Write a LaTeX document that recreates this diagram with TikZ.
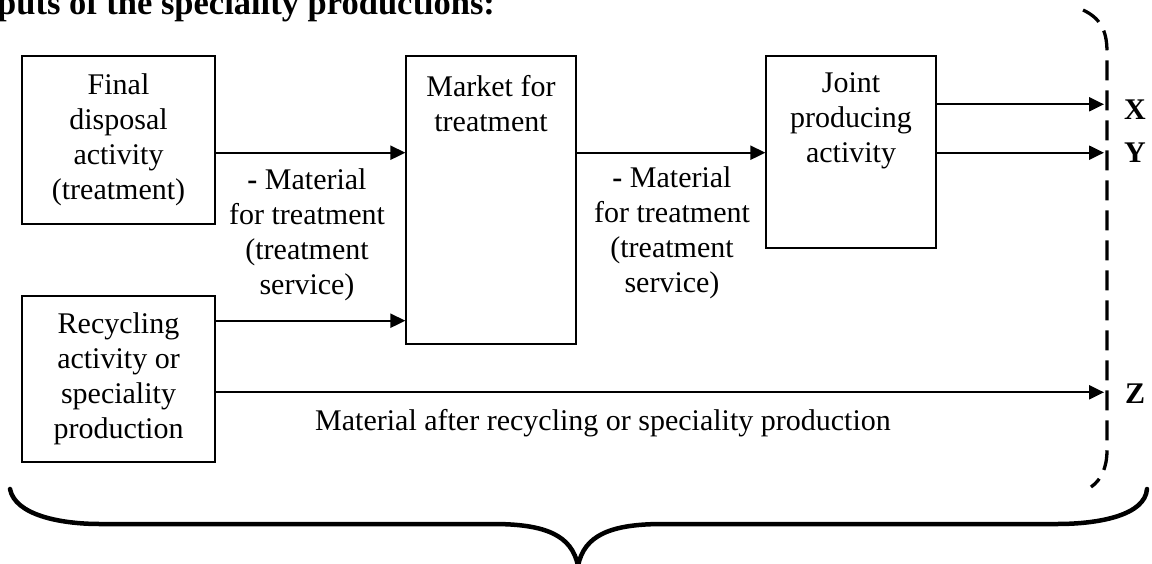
\documentclass[tikz,border=0pt]{standalone}
\usepackage{fontspec}
\setmainfont{Liberation Serif}
\usetikzlibrary{arrows.meta,calc}
\begin{document}
\begin{tikzpicture}[x=1pt,y=-1pt,
  every node/.style={font=\fontsize{30}{35}\selectfont, inner sep=0pt},
  box/.style={draw, line width=1.2pt, align=center},
  txt/.style={align=center},
  lbl/.style={font=\fontsize{30}{35}\selectfont\bfseries},
  arr/.style={line width=2.2pt, -{Triangle[length=15pt,width=14pt]}},
  brace/.style={line width=4.5pt, line cap=round},
  dashline/.style={line width=3.3pt, dash pattern=on 20pt off 10pt}]
\useasboundingbox (0,0) rectangle (1152,563);
% heading
\node[anchor=base west, font=\fontsize{34.5}{40}\selectfont\bfseries] (head) at (-3,14) {puts of the speciality productions:};
% boxes
\node[box, minimum width=193, minimum height=168] (fd) at (118.5,140) {Final\\disposal\\activity\\(treatment)};
\node[box, minimum width=193, minimum height=166] (rc) at (118.5,379) {Recycling\\activity or\\speciality\\production};
\node[box, minimum width=170, minimum height=288] (mk) at (491,200) {};
\node[txt] (mkt) at (491,104) {Market for\\treatment};
\node[box, minimum width=170, minimum height=192] (jp) at (851,152) {};
\node[txt] (jpt) at (851,121) {Joint\\producing\\activity};
% boundary line
\coordinate (bx) at (1104,0);
\draw[dashline] (1083,10) .. controls (1100,18) and (1107,30) .. (1107,52) -- (1107,450) .. controls (1107,468) and (1101,480) .. (1091,487);
% arrows
\path ([yshift=-12.7pt]fd.east) coordinate (p1);
\draw[arr] (p1) -- (p1 -| mk.west);
\draw[arr] (p1 -| mk.east) -- (p1 -| jp.west);
\path ([yshift=47.7pt]jp.east) coordinate (px);
\draw[arr] (px) -- (px -| bx);
\draw[arr] (p1 -| jp.east) -- (p1 -| bx);
\path ([yshift=58.3pt]rc.east) coordinate (p2);
\draw[arr] (p2) -- (p2 -| mk.west);
\path ([yshift=-13.3pt]rc.east) coordinate (p3);
\draw[arr] (p3) -- (p3 -| bx);
% labels
\node[txt] (l1) at (307,235) {{\bfseries -} Material\\for treatment\\(treatment\\service)};
\node[txt] (l2) at (672,233) {{\bfseries -} Material\\for treatment\\(treatment\\service)};
\node[txt] (l3) at (603,423) {Material after recycling or speciality production};
\node[lbl] (X) at (1135,110) {X};
\node[lbl] (Y) at (1135,153) {Y};
\node[lbl] (Z) at (1135,394) {Z};
% brace
\draw[brace] (10,489) .. controls (15,515) and (60,524) .. (100,524) -- (493,524) .. controls (545,524) and (572,535) .. (578,566) .. controls (584,535) and (611,524) .. (663,524) -- (1057,524) .. controls (1100,524) and (1145,515) .. (1147,489);
\end{tikzpicture}
\end{document}
